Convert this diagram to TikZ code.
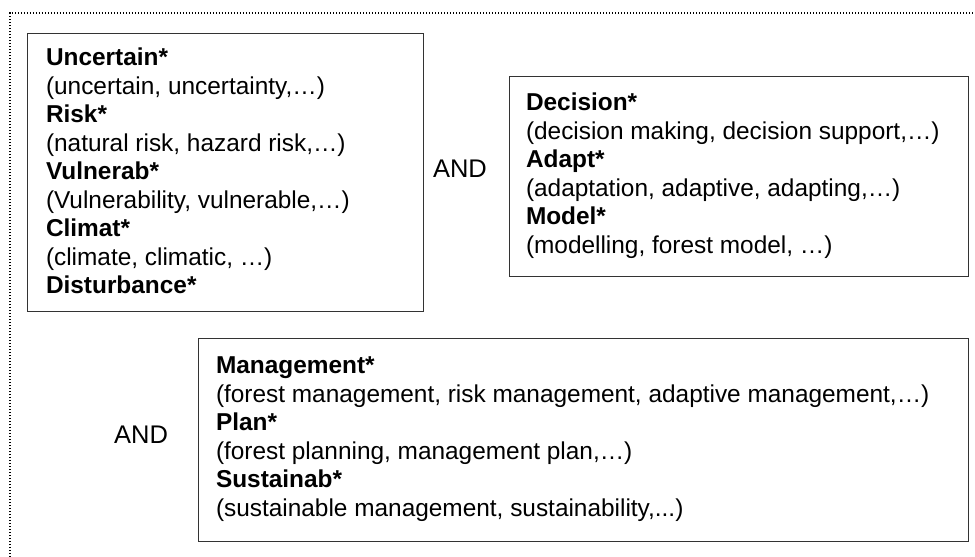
\documentclass[tikz,border=0pt]{standalone}
\usepackage{fontspec}
\setmainfont{Liberation Sans}
\usetikzlibrary{positioning}

\begin{document}
\begin{tikzpicture}[
		x = 1pt, y = -1pt,
		node distance = 0pt,
		box/.style = {draw=black!80, line width=1pt, inner sep=0pt, outer sep=0pt, anchor=north west},
		terms/.style = {align=left, inner sep=0pt, outer sep=0pt, font=\fontsize{24.4}{28.5}\selectfont},
		andtext/.style = {inner sep=0pt, outer sep=0pt, font=\fontsize{25.5}{30}\selectfont},
		frame/.style = {line width=1.2pt, dash pattern=on 1.2pt off 1.8pt}
	]
	\useasboundingbox (0,0) rectangle (975,557);
	%
	\coordinate (fbl) at (10,560);
	\coordinate (ftr) at (978,13);
	\draw[frame] (fbl) |- (ftr);
	%
	\node (box1) [box, minimum width=396pt, minimum height=278pt] at (27,33)  {};
	\node (box2) [box, minimum width=459pt, minimum height=200pt] at (509,76) {};
	\node (box3) [box, minimum width=770pt, minimum height=203pt] at (198,338) {};
	%
	\node (terms1) [terms, below right=15pt and 19pt of box1.north west] {%
		\textbf{Uncertain*}\\
		(uncertain, uncertainty,…)\\
		\textbf{Risk*}\\
		(natural risk, hazard risk,…)\\
		\textbf{Vulnerab*}\\
		(Vulnerability, vulnerable,…)\\
		\textbf{Climat*}\\
		(climate, climatic, …)\\
		\textbf{Disturbance*}};
	%
	\node (terms2) [terms, below right=17pt and 17pt of box2.north west] {%
		\textbf{Decision*}\\
		(decision making, decision support,…)\\
		\textbf{Adapt*}\\
		(adaptation, adaptive, adapting,…)\\
		\textbf{Model*}\\
		(modelling, forest model, …)};
	%
	\node (terms3) [terms, below right=19pt and 18pt of box3.north west] {%
		\textbf{Management*}\\
		(forest management, risk management, adaptive management,…)\\
		\textbf{Plan*}\\
		(forest planning, management plan,…)\\
		\textbf{Sustainab*}\\
		(sustainable management, sustainability,...)};
	%
	\node (and1) [andtext, right=10pt of box1.east, yshift=3pt] {AND};
	\node (and2) [andtext, left=30pt of box3.west, yshift=5pt]  {AND};

\end{tikzpicture}
\end{document}
